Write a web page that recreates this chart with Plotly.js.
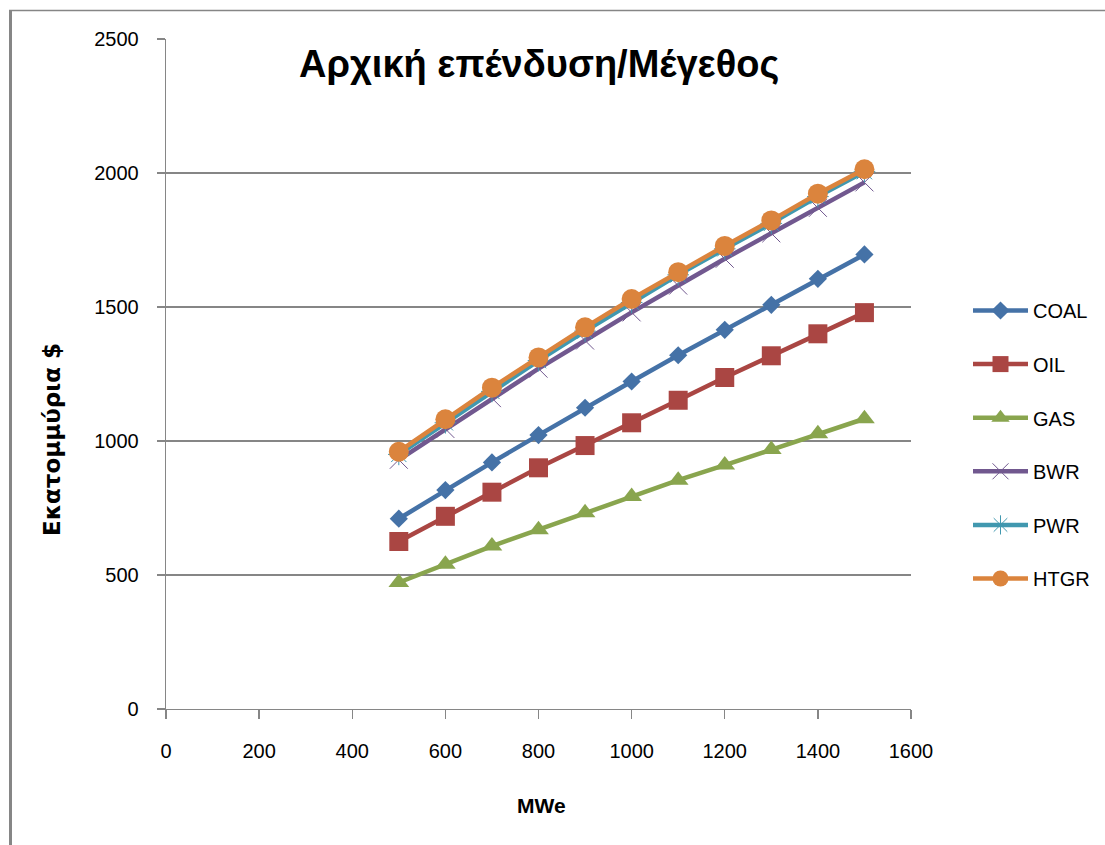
<!DOCTYPE html>
<html>
<head>
<meta charset="utf-8">
<script src="https://cdn.plot.ly/plotly-3.0.1.min.js"></script>
<style>
  html, body { margin: 0; padding: 0; background: #ffffff; }
  #chart { width: 1105px; height: 845px; }
</style>
</head>
<body>
<div id="chart"></div>
<script>
// Data
const mwe = [500, 600, 700, 800, 900, 1000, 1100, 1200, 1300, 1400, 1500];
const coal = [710, 817, 920, 1022, 1124, 1222, 1320, 1415, 1508, 1605, 1696];
const oil  = [625, 719, 809, 900, 983, 1068, 1152, 1237, 1318, 1400, 1479];
const gas  = [472, 540, 608, 669, 732, 793, 854, 910, 968, 1027, 1083];
const bwr  = [930, 1045, 1160, 1270, 1375, 1480, 1580, 1680, 1775, 1870, 1965];
const pwr  = [950, 1068, 1185, 1300, 1410, 1517, 1620, 1717, 1812, 1912, 2005];
const htgr = [960, 1081, 1199, 1312, 1424, 1530, 1630, 1728, 1823, 1923, 2014];

const seriesNames = ["COAL", "OIL", "GAS", "BWR", "PWR", "HTGR"];
const seriesValues = [coal, oil, gas, bwr, pwr, htgr];
const seriesColors = ["#4572A7", "#AA4643", "#89A54E", "#71588F", "#4198AF", "#DB843D"];

const chartTitle = "Αρχική επένδυση/Μέγεθος";
const xTitle = "MWe";
const yTitle = "Εκατομμύρια $";

const markerStyles = [
  {symbol: "diamond", size: 14},
  {symbol: "square", size: 19},
  {symbol: "triangle-up", size: 18},
  {symbol: "x-thin-open", size: 18, open: true},
  {symbol: "asterisk-open", size: 18, open: true},
  {symbol: "circle", size: 20}
];

const traces = seriesNames.map((name, i) => {
  const ms = markerStyles[i];
  const marker = {symbol: ms.symbol, size: ms.size, color: seriesColors[i]};
  if (ms.open) marker.line = {color: seriesColors[i], width: 1};
  return {
    type: "scatter",
    mode: "lines+markers",
    name: name,
    x: mwe,
    y: seriesValues[i],
    legendgroup: name,
    line: {color: seriesColors[i], width: 4.5},
    marker: marker
  };
});

const L = 166, R = 1105 - 911, T = 39, B = 845 - 709;
const pw = 1105 - L - R, ph = 845 - T - B;
const px = v => (v - L) / pw;
const py = v => (845 - B - v) / ph;

const gridCol = "#868686";
const font = "Liberation Sans, Arial, sans-serif";

const layout = {
  width: 1105,
  height: 845,
  margin: {l: L, r: R, t: T, b: B, pad: 0, autoexpand: false},
  paper_bgcolor: "#ffffff",
  plot_bgcolor: "#ffffff",
  font: {family: font, color: "#000000", size: 20},
  showlegend: true,
  legend: {
    x: px(968), xanchor: "left",
    y: py(291), yanchor: "top",
    font: {family: font, size: 20, color: "#000000"},
    traceorder: "grouped",
    tracegroupgap: 24.6,
    itemwidth: 55,
    bgcolor: "rgba(0,0,0,0)"
  },
  xaxis: {
    range: [0, 1600],
    tickvals: [0, 200, 400, 600, 800, 1000, 1200, 1400, 1600],
    ticks: "outside",
    ticklen: 9,
    tickcolor: gridCol,
    tickwidth: 1.3,
    ticklabelstandoff: 15,
    showgrid: false,
    showline: true,
    linecolor: gridCol,
    linewidth: 1.3,
    zeroline: false,
    tickfont: {family: font, size: 20, color: "#000000"},
    automargin: false,
    fixedrange: true
  },
  yaxis: {
    range: [0, 2500],
    tickvals: [0, 500, 1000, 1500, 2000, 2500],
    ticks: "outside",
    ticklen: 8,
    tickcolor: gridCol,
    tickwidth: 1.3,
    ticklabelstandoff: 14,
    showgrid: true,
    gridcolor: gridCol,
    gridwidth: 1.3,
    showline: true,
    linecolor: gridCol,
    linewidth: 1.3,
    zeroline: false,
    tickfont: {family: font, size: 20, color: "#000000"},
    automargin: false,
    fixedrange: true
  },
  annotations: [
    {
      text: "<b>" + chartTitle + "</b>",
      xref: "paper", yref: "paper",
      x: px(539), y: py(64),
      xanchor: "center", yanchor: "middle",
      showarrow: false,
      font: {family: font, size: 38, color: "#000000"}
    },
    {
      text: "<b>" + xTitle + "</b>",
      xref: "paper", yref: "paper",
      x: px(541), y: py(805),
      xanchor: "center", yanchor: "middle",
      showarrow: false,
      font: {family: font, size: 21, color: "#000000"}
    },
    {
      text: "<b>" + yTitle + "</b>",
      xref: "paper", yref: "paper",
      x: px(52), y: py(440),
      xanchor: "center", yanchor: "middle",
      textangle: -90,
      showarrow: false,
      font: {family: "DejaVu Sans, Liberation Sans, sans-serif", size: 23, color: "#000000"}
    }
  ],
  shapes: [
    {type: "line", xref: "paper", yref: "paper", x0: px(10.5), x1: px(10.5), y0: py(10), y1: py(860),
     line: {color: gridCol, width: 3}},
    {type: "line", xref: "paper", yref: "paper", x0: px(9), x1: px(1110), y0: py(10.5), y1: py(10.5),
     line: {color: gridCol, width: 1.5}}
  ]
};

Plotly.newPlot("chart", traces, layout, {staticPlot: true, displayModeBar: false});
</script>
</body>
</html>
